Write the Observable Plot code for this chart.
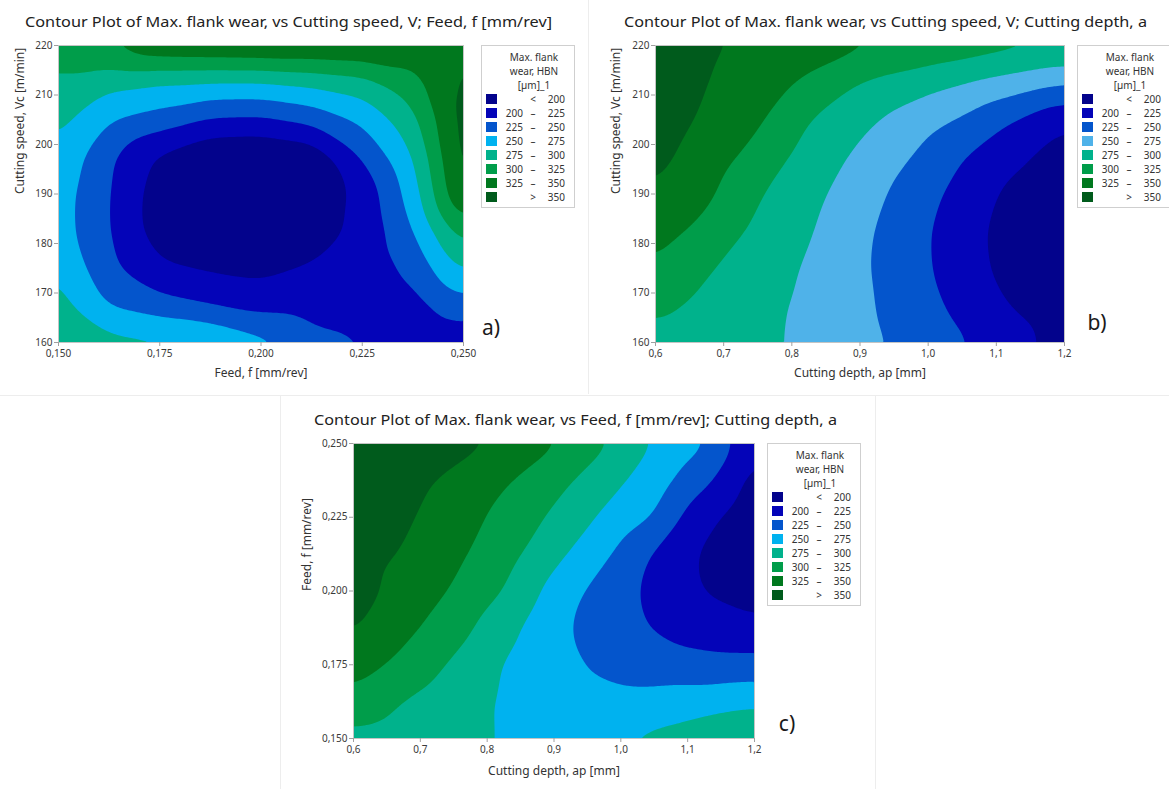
<!DOCTYPE html>
<html><head><meta charset="utf-8">
<script src="https://cdn.jsdelivr.net/npm/d3@7"></script>
<script src="https://cdn.jsdelivr.net/npm/@observablehq/plot@0.6"></script>
<style>
body{margin:0;background:#fff;}
#root{position:relative;width:1169px;height:789px;overflow:hidden;background:#fff;}
.panel{position:absolute;}
.panel svg g[aria-label="x-axis tick"], .panel svg g[aria-label="y-axis tick"]{stroke:#a0a0a0;}
#overlay{position:absolute;left:0;top:0;pointer-events:none;}
</style></head>
<body><div id="root"></div>
<script>
// ---- data ----
const thresholds = [200, 225, 250, 275, 300, 325, 350];
const legendLow = ["", "200", "225", "250", "275", "300", "325", ""];
const legendMid = ["<", "–", "–", "–", "–", "–", "–", ">"];
const legendHigh = ["200", "225", "250", "275", "300", "325", "350", "350"];
const legendTitle = ["Max. flank", "wear, HBN", "[µm]_1"];

const feedValues = [0.150, 0.1625, 0.175, 0.1875, 0.200, 0.2125, 0.225, 0.2375, 0.250];
const speedValues = [220, 212.5, 205, 197.5, 190, 182.5, 175, 167.5, 160];
const depthValues = [0.6, 0.675, 0.75, 0.825, 0.9, 0.975, 1.05, 1.125, 1.2];
const feedRowValues = [0.250, 0.2375, 0.225, 0.2125, 0.200, 0.1875, 0.175, 0.1625, 0.150];

const feedTicks = [0.150, 0.175, 0.200, 0.225, 0.250];
const speedTicks = [160, 170, 180, 190, 200, 210, 220];
const depthTicks = [0.6, 0.7, 0.8, 0.9, 1.0, 1.1, 1.2];

// a) rows = cutting speed (220 -> 160), columns = feed (0.150 -> 0.250)
const wearA = [
  [312, 327, 349, 352, 354, 352, 351, 338, 342],
  [295, 282, 275, 273, 273, 280, 289, 315, 355],
  [282, 252, 239, 222, 220, 232, 254, 291, 362],
  [270, 228, 195, 176, 174, 180, 227, 273, 362],
  [262, 226, 186, 180, 178, 184, 206, 261, 356],
  [262, 226, 186, 184, 182, 190, 205, 247, 313],
  [275, 229, 204, 196, 193, 202, 208, 230, 280],
  [284, 247, 235, 224, 215, 215, 215, 214, 240],
  [291, 285, 282, 279, 260, 232, 226, 207, 206]
];
// b) rows = cutting speed (220 -> 160), columns = cutting depth (0.6 -> 1.2)
const wearB = [
  [363, 354, 346, 338, 330, 323, 316, 309, 303],
  [362, 351, 336, 320, 299, 288, 276, 264, 252],
  [363, 346, 329, 300, 281, 264, 247, 225, 204],
  [357, 338, 316, 290, 270, 250, 226, 205, 187],
  [348, 330, 302, 282, 262, 239, 216, 193, 185],
  [335, 318, 294, 277, 256, 234, 211, 188, 180],
  [322, 302, 287, 272, 254, 234, 212, 190, 182],
  [306, 293, 282, 270, 255, 238, 218, 198, 189],
  [291, 286, 281, 269, 257, 244, 228, 209, 190]
];
// c) rows = feed (0.250 -> 0.150), columns = cutting depth (0.6 -> 1.2)
const wearC = [
  [370, 365, 360, 346, 328, 304, 274, 254, 203],
  [365, 358, 344, 328, 309, 285, 263, 231, 190],
  [362, 354, 337, 318, 296, 271, 250, 205, 183],
  [358, 349, 331, 310, 282, 255, 222, 196, 184],
  [361, 342, 323, 300, 266, 239, 219, 198, 192],
  [353, 332, 311, 283, 256, 239, 223, 211, 204],
  [338, 318, 296, 273, 258, 246, 238, 234, 235],
  [316, 299, 285, 272, 260, 257, 258, 262, 268],
  [292, 289, 283, 273, 265, 272, 282, 294, 305]
];

// ---- styles ----
const coloursAC = ["#03038c", "#0404b8", "#0455cc", "#00b2ef", "#00b28c", "#009d4a", "#00781e", "#005b1c"];
const coloursB  = ["#03038c", "#0404b8", "#0455cc", "#4fb2e9", "#00b28c", "#009d4a", "#00781e", "#005b1c"];
const FONT = "'Noto Sans', 'Open Sans', sans-serif";

function toGrid(grid, cols, rows) {
  const out = [];
  rows.forEach((r, i) => cols.forEach((c, j) => out.push({x: c, y: r, w: grid[i][j]})));
  return out;
}
const fmt3 = d => d.toFixed(3).replace(".", ",");
const fmt1 = d => d.toFixed(1).replace(".", ",");

function panel(o) {
  return Plot.plot({
    width: o.width, height: o.height,
    marginLeft: o.ml, marginRight: o.mr, marginTop: o.mt, marginBottom: o.mb,
    style: {fontFamily: FONT, fontSize: "10px", color: "#3a3a3a", background: "transparent", overflow: "visible"},
    x: {domain: o.xDomain},
    y: {domain: o.yDomain},
    color: {type: "threshold", domain: thresholds, range: o.colours},
    marks: [
      Plot.frame({fill: o.colours[0]}),
      Plot.contour(o.data, {x: "x", y: "y", fill: "w", thresholds, interpolate: "barycentric", blur: 5}),
      Plot.frame({stroke: "#c4c4c4"}),
      Plot.axisX({ticks: o.xTicks, tickFormat: o.xFmt, tickSize: 4, tickPadding: 3, label: null}),
      Plot.axisY({ticks: o.yTicks, tickFormat: o.yFmt, tickSize: 4, tickPadding: 2, label: null}),
      Plot.text([o.xLabel], {text: d => d, frameAnchor: "bottom", dy: o.xOff, fontSize: 12, fill: "#333"}),
      Plot.text([o.yLabel], {text: d => d, frameAnchor: "left", dx: -o.yOff, rotate: -90, fontSize: 12, fill: "#333"})
    ]
  });
}

const root = document.getElementById("root");
function place(node, left, top) {
  const d = document.createElement("div");
  d.className = "panel"; d.style.left = left + "px"; d.style.top = top + "px";
  d.appendChild(node); root.appendChild(d);
}

place(panel({
  data: toGrid(wearA, feedValues, speedValues),
  xDomain: [0.150, 0.250], yDomain: [160, 220],
  xTicks: feedTicks, yTicks: speedTicks, xFmt: fmt3, yFmt: d => String(d),
  xLabel: "Feed, f [mm/rev]", yLabel: "Cutting speed, Vc [m/min]",
  colours: coloursAC, width: 480, height: 370, ml: 58, mr: 17, mt: 15, mb: 58, xOff: 34, yOff: 38
}), 0, 30);

place(panel({
  data: toGrid(wearB, depthValues, speedValues),
  xDomain: [0.6, 1.2], yDomain: [160, 220],
  xTicks: depthTicks, yTicks: speedTicks, xFmt: fmt1, yFmt: d => String(d),
  xLabel: "Cutting depth, ap [mm]", yLabel: "Cutting speed, Vc [m/min]",
  colours: coloursB, width: 480, height: 370, ml: 65, mr: 6, mt: 15, mb: 58, xOff: 34, yOff: 39
}), 590, 30);

place(panel({
  data: toGrid(wearC, depthValues, feedRowValues),
  xDomain: [0.6, 1.2], yDomain: [0.150, 0.250],
  xTicks: depthTicks, yTicks: feedTicks, xFmt: fmt1, yFmt: fmt3,
  xLabel: "Cutting depth, ap [mm]", yLabel: "Feed, f [mm/rev]",
  colours: coloursAC, width: 470, height: 361, ml: 63, mr: 6, mt: 15, mb: 51, xOff: 36, yOff: 46
}), 290, 428);

// ---- overlay: titles, legends, panel tags, separators ----
const W = 1169, H = 789;
const svg = d3.select(root).append("svg").attr("id", "overlay").attr("width", W).attr("height", H)
  .style("font-family", FONT);

svg.append("line").attr("x1", 588.5).attr("x2", 588.5).attr("y1", 0).attr("y2", 394).attr("stroke", "#ededed");
svg.append("line").attr("x1", 0).attr("x2", W).attr("y1", 395.5).attr("y2", 395.5).attr("stroke", "#ededed");
svg.append("line").attr("x1", 280.5).attr("x2", 280.5).attr("y1", 396).attr("y2", H).attr("stroke", "#ededed");
svg.append("line").attr("x1", 875.5).attr("x2", 875.5).attr("y1", 396).attr("y2", H).attr("stroke", "#ededed");

const titles = [
  {t: "Contour Plot of Max. flank wear, vs Cutting speed, V; Feed, f [mm/rev]", x: 25, y: 21, w: 527},
  {t: "Contour Plot of Max. flank wear, vs Cutting speed, V; Cutting depth, a", x: 624, y: 21, w: 523},
  {t: "Contour Plot of Max. flank wear, vs Feed, f [mm/rev]; Cutting depth, a", x: 314, y: 419, w: 523}
];
titles.forEach(d => svg.append("text").attr("x", d.x).attr("y", d.y).attr("dominant-baseline", "central")
  .attr("font-size", 14.5).attr("fill", "#222").attr("textLength", d.w).attr("lengthAdjust", "spacingAndGlyphs").text(d.t));

const tags = [{t: "a)", x: 491, y: 327}, {t: "b)", x: 1097, y: 322}, {t: "c)", x: 787, y: 723}];
tags.forEach(d => svg.append("text").attr("x", d.x).attr("y", d.y).attr("text-anchor", "middle")
  .attr("dominant-baseline", "central").attr("font-size", 21).attr("fill", "#1a1a1a").text(d.t));

function legend(L, T, colours) {
  const g = svg.append("g").attr("font-size", 10).attr("fill", "#333");
  g.append("rect").attr("x", L + 0.5).attr("y", T + 0.5).attr("width", 93).attr("height", 162)
    .attr("fill", "#fff").attr("stroke", "#cfcfcf");
  legendTitle.forEach((t, i) => g.append("text").attr("x", L + 53).attr("y", T + 12 + 14 * i)
    .attr("text-anchor", "middle").attr("dominant-baseline", "central").text(t));
  colours.forEach((c, i) => {
    const y = T + 54 + 14 * i;
    g.append("rect").attr("x", L + 5).attr("y", y - 5).attr("width", 11).attr("height", 10).attr("fill", c);
    g.append("text").attr("x", L + 42).attr("y", y).attr("text-anchor", "end").attr("dominant-baseline", "central").text(legendLow[i]);
    g.append("text").attr("x", L + 52).attr("y", y).attr("text-anchor", "middle").attr("dominant-baseline", "central").text(legendMid[i]);
    g.append("text").attr("x", L + 84).attr("y", y).attr("text-anchor", "end").attr("dominant-baseline", "central").text(legendHigh[i]);
  });
}
legend(481, 45, coloursAC);
legend(1077, 45, coloursB);
legend(767, 443, coloursAC);
</script>
</body></html>
